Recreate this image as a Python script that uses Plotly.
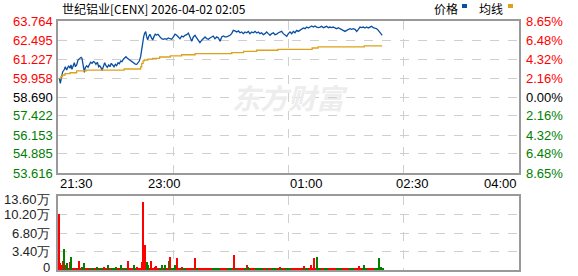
import plotly.graph_objects as go

# ---------------- data ----------------
title_text = "世纪铝业[CENX] 2026-04-02 02:05"
x_tick_labels = ["21:30", "23:00", "01:00", "02:30", "04:00"]
x_tick_minutes = [0, 90, 210, 300, 390]
x_grid_minutes = [97.5, 195, 292.5]

price_left_ticks = [63.764, 62.495, 61.227, 59.958, 58.690, 57.422, 56.153, 54.885, 53.616]
pct_right_ticks = ["8.65%", "6.48%", "4.32%", "2.16%", "0.00%", "2.16%", "4.32%", "6.48%", "8.65%"]
vol_tick_vals = [136000, 102000, 68000, 34000, 0]
vol_tick_text = ["13.60万", "10.20万", "6.80万", "3.40万", "0"]

price_minutes = [
    1.1, 2.0, 3.1, 4.0, 5.1, 6.2, 7.3, 8.2, 9.0, 10.2, 11.0, 11.8, 13.0, 13.8, 14.7, 15.8, 16.9, 18.0, 19.5, 20.3,
    21.2, 22.3, 23.1, 24.3, 25.4, 26.5, 27.6, 28.8, 29.9, 31.0, 32.1, 33.3, 34.4, 35.3, 36.4, 37.2, 38.4, 39.5, 40.6, 41.7,
    42.9, 44.0, 45.1, 46.3, 47.4, 48.5, 49.6, 50.8, 51.9, 53.0, 54.1, 55.3, 56.4, 57.5, 58.7, 59.8, 60.9, 62.0, 63.2, 64.3,
    65.4, 66.6, 67.7, 68.8, 69.9, 70.8, 71.6, 72.5, 73.3, 74.2, 75.0, 75.9, 76.7, 77.8, 79.0, 80.1, 81.2, 82.3, 83.4, 84.6,
    86.3, 87.7, 89.1, 90.5, 91.9, 93.3, 94.8, 96.2, 97.6, 99.0, 100.4, 101.8, 103.2, 104.6, 106.0, 107.4, 108.9, 110.3, 111.7, 113.1,
    114.5, 115.9, 117.3, 118.7, 120.1, 121.6, 123.0, 124.4, 125.8, 127.2, 128.6, 130.0, 131.4, 132.8, 134.3, 135.7, 137.1, 138.5, 139.9, 141.3,
    142.7, 144.1, 145.5, 146.9, 148.3, 149.7, 151.2, 152.6, 154.0, 155.4, 156.8, 158.2, 159.6, 161.0, 162.4, 163.8, 165.2, 166.7, 168.1, 169.5,
    170.9, 172.3, 173.7, 175.1, 176.5, 177.9, 179.4, 180.8, 182.2, 183.6, 185.0, 186.4, 187.8, 189.2, 190.6, 192.1, 193.5, 194.9, 196.3, 197.7,
    199.1, 200.5, 201.9, 203.3, 204.7, 206.2, 207.6, 209.0, 210.4, 211.8, 213.2, 214.6, 216.0, 217.4, 218.8, 220.2, 221.7, 223.1, 224.5, 225.9,
    227.3, 228.7, 230.1, 231.5, 232.9, 234.3, 235.7, 237.1, 238.6, 240.0, 241.4, 242.8, 244.2, 245.6, 247.0, 248.4, 249.8, 251.3, 252.7, 254.1,
    255.5, 256.9, 258.3, 259.7, 261.1, 262.5, 263.9, 265.3, 266.7, 268.2, 269.6, 271.0, 272.4, 273.8, 274.3,
]
price_values = [
    59.94, 59.60, 60.05, 60.38, 60.49, 60.71, 60.49, 60.65, 60.78, 60.61, 60.83, 60.54, 60.83, 60.98, 60.71, 60.83, 61.16, 61.27, 61.34, 61.27,
    60.83, 60.34, 60.65, 60.78, 60.67, 60.87, 61.01, 60.94, 61.05, 61.01, 60.87, 61.01, 60.71, 60.78, 60.65, 60.45, 60.83, 60.98, 60.78, 60.67,
    60.83, 60.71, 60.94, 60.83, 60.71, 60.87, 60.78, 60.98, 60.91, 61.09, 61.05, 61.21, 61.27, 61.38, 61.27, 61.21, 61.14, 61.05, 61.01, 60.94,
    60.89, 60.87, 61.01, 61.09, 61.38, 61.94, 62.50, 62.72, 62.94, 63.05, 62.72, 62.50, 62.72, 62.88, 62.65, 62.50, 62.72, 62.88, 62.83, 62.88,
    62.70, 62.58, 62.54, 62.58, 62.54, 62.63, 62.58, 62.54, 62.70, 62.88, 62.81, 62.70, 62.58, 62.76, 62.70, 62.81, 62.85, 62.96, 62.70, 62.41,
    62.70, 62.81, 62.63, 62.48, 62.32, 62.48, 62.58, 62.70, 62.58, 62.54, 62.63, 62.70, 62.76, 62.58, 62.70, 62.63, 62.41, 62.70, 62.76, 62.70,
    62.70, 62.76, 62.81, 62.92, 63.14, 63.10, 63.03, 63.10, 62.98, 63.03, 62.92, 63.03, 62.98, 63.07, 62.92, 63.03, 62.98, 63.07, 62.96, 63.03,
    62.92, 62.98, 62.85, 62.92, 63.03, 62.92, 62.81, 62.92, 62.98, 62.85, 62.88, 62.98, 63.03, 63.07, 62.92, 62.85, 62.74, 62.92, 63.03, 62.92,
    63.07, 62.98, 63.14, 63.07, 63.14, 63.21, 63.30, 63.25, 63.36, 63.30, 63.36, 63.43, 63.36, 63.43, 63.36, 63.32, 63.36, 63.41, 63.32, 63.36,
    63.41, 63.32, 63.36, 63.32, 63.36, 63.30, 63.25, 63.32, 63.25, 63.21, 63.14, 63.07, 63.14, 63.21, 63.25, 63.21, 63.25, 63.21, 63.07, 63.21,
    63.36, 63.32, 63.36, 63.30, 63.36, 63.30, 63.36, 63.41, 63.32, 63.30, 63.25, 63.14, 63.03, 62.85, 62.81,
]

avg_minutes = [1.1, 2.5, 3.8, 6.0, 10.2, 15.8, 24.0, 56.0, 69.9, 70.8, 72.0, 73.0, 76.0, 80.0, 86.0, 95.0, 104.6, 116.0,
               147.0, 157.0, 168.0, 186.0, 215.0, 220.0, 259.0, 274.3]
avg_values = [59.94, 60.05, 60.16, 60.25, 60.31, 60.43, 60.49, 60.56, 60.70, 60.94, 61.10, 61.16, 61.22, 61.27, 61.36, 61.43,
              61.51, 61.58, 61.65, 61.74, 61.81, 61.87, 61.96, 62.03, 62.10, 62.10]

vol_minutes = [1, 2, 3, 4, 5, 7, 8, 10, 11, 18, 20, 21, 22, 27, 33, 39, 42, 49, 53, 59, 64, 67, 71, 72, 73, 74, 75, 76,
               79, 82, 83, 88, 91, 94, 95, 99, 101, 105, 110, 116, 122, 149, 151, 160, 161, 169, 177, 181, 188, 189,
               208, 214, 216, 217, 219, 236, 255, 259, 272, 273, 274]
vol_values = [103000, 12000, 9000, 16000, 38000, 9000, 12000, 15000, 24500, 16500, 5000, 6000, 12000, 3000, 6000, 6000,
              9000, 6000, 9000, 16500, 9000, 6000, 15000, 125000, 43000, 46000, 15000, 10000, 16500, 6000, 7000, 10000,
              9000, 16500, 24500, 10000, 22000, 6000, 4000, 21400, 4000, 27600, 4000, 10000, 5000, 3000, 3000, 3000,
              6000, 3000, 7000, 9000, 3000, 21400, 24500, 3000, 7000, 9000, 21400, 6000, 4000]
vol_colors = list("rrrrgrgrgrrggrgrgggrgrrrrrggrrrgggrgrrrrrrgrggggrgrrrrggrgggg")

base_colors = ("rrrrrrrrggggrrrrgggrrrrrr" "gggggrrrrrgggrrrrrrrggggg" "rrrrrgggrrrrrggggrrrrrrrr"
               "rrrrrrrrrrggggrrrrrgggggg" "rrrgggggrrrrrrggggrrrrrrr" "rrrrrgggggggrrrrrrggggrrr"
               "rrrrrrrgggggrrrrrggggggrr" "rrrrrrrgggrrrrrrrgggggrrr" "rrrrrrgggggrrrrrrrggggrrr"
               "gggrrrrrrrgggggrrrrrrgggg" "rrrrrrrggggrrrrrrgggggggg")
base_value = 2000

# ---------------- styling ----------------
W, H = 578, 276
L, R, T, B = 58, 59, 21, 6
PW, PH = W - L - R, H - T - B
RED, GREEN, BLACK = "#ff0000", "#008000", "#000000"
BLUE_LINE, GOLD_LINE = "#0a4fa3", "#dca21b"
GRID = "#cfcfcf"
FRAME = "#999999"
NUM_FONT = "Liberation Sans, Arial, sans-serif"
CJK_FONT = "Noto Sans CJK SC, sans-serif"


def px_x(px):
    return (px - L) / PW


def px_y(py):
    return (H - B - py) / PH


main_top, main_bot = 21, 173
vol_top, vol_bot = 196, 270

fig = go.Figure()

fig.add_trace(go.Scatter(x=price_minutes, y=price_values, mode="lines",
                         line=dict(color=BLUE_LINE, width=1.3), xaxis="x", yaxis="y", hoverinfo="skip"))
fig.add_trace(go.Scatter(x=avg_minutes, y=avg_values, mode="lines", line_shape="hv",
                         line=dict(color=GOLD_LINE, width=1.3), xaxis="x", yaxis="y", hoverinfo="skip"))

cmap = {"r": RED, "g": GREEN}
base_x = list(range(1, len(base_colors) + 1))
fig.add_trace(go.Bar(x=base_x, y=[base_value] * len(base_x), marker_color=[cmap[c] for c in base_colors],
                     marker_line_width=0, width=1.0, xaxis="x2", yaxis="y2", hoverinfo="skip"))
fig.add_trace(go.Bar(x=vol_minutes, y=vol_values, marker_color=[cmap[c] for c in vol_colors],
                     marker_line_width=0, width=1.0, xaxis="x2", yaxis="y2", hoverinfo="skip"))

axis_common = dict(showline=True, mirror=True, linecolor=FRAME, linewidth=1.5, zeroline=False,
                   showgrid=True, gridcolor=GRID, griddash="dash", gridwidth=1, ticks="", showticklabels=False,
                   fixedrange=True)

fig.update_layout(
    width=W, height=H, margin=dict(l=L, r=R, t=T, b=B, pad=0),
    paper_bgcolor="white", plot_bgcolor="white", showlegend=False, barmode="overlay", bargap=0,
    xaxis=dict(domain=[0, 1], range=[0, 390], tickmode="array", tickvals=x_grid_minutes, anchor="y", **axis_common),
    yaxis=dict(domain=[px_y(main_bot), 1], range=[price_left_ticks[-1], price_left_ticks[0]],
               tickmode="array", tickvals=price_left_ticks[1:-1], anchor="x", **axis_common),
    xaxis2=dict(domain=[0, 1], range=[0, 390], tickmode="array", tickvals=x_grid_minutes, anchor="y2", **axis_common),
    yaxis2=dict(domain=[0, px_y(vol_top)], range=[0, vol_tick_vals[0]],
                tickmode="array", tickvals=vol_tick_vals[1:-1], anchor="x2", **axis_common),
)

ann = []
# title
ann.append(dict(text=title_text, x=px_x(60), y=px_y(8), xref="paper", yref="paper", xanchor="left", yanchor="middle",
                showarrow=False, font=dict(family=CJK_FONT, size=12, color=BLACK)))
# legend
ann.append(dict(text="价格", x=px_x(432), y=px_y(8), xref="paper", yref="paper", xanchor="left", yanchor="middle",
                showarrow=False, font=dict(family=CJK_FONT, size=12, color=BLACK)))
ann.append(dict(text="均线", x=px_x(477), y=px_y(8), xref="paper", yref="paper", xanchor="left", yanchor="middle",
                showarrow=False, font=dict(family=CJK_FONT, size=12, color=BLACK)))

# left / right price labels
n = len(price_left_ticks)
mid = n // 2
for i, (v, p) in enumerate(zip(price_left_ticks, pct_right_ticks)):
    col = RED if i < mid else (BLACK if i == mid else GREEN)
    ann.append(dict(text=f"{v:.3f}", x=0, y=v, xref="paper", yref="y", xanchor="right", yanchor="middle",
                    xshift=-3, showarrow=False, font=dict(family=NUM_FONT, size=13, color=col)))
    ann.append(dict(text=p, x=1, y=v, xref="paper", yref="y", xanchor="left", yanchor="middle",
                    xshift=5, showarrow=False, font=dict(family=NUM_FONT, size=13, color=col)))

# volume labels
for v, t in zip(vol_tick_vals, vol_tick_text):
    ys = 0
    if v == vol_tick_vals[0]:
        ys = -3
    elif v == 0:
        ys = 3
    ann.append(dict(text=t, x=0, y=v, xref="paper", yref="y2", xanchor="right", yanchor="middle",
                    xshift=-6, yshift=ys, showarrow=False, font=dict(family=NUM_FONT, size=13, color="#222222")))

# time labels
for i, (m, t) in enumerate(zip(x_tick_minutes, x_tick_labels)):
    xa = "left" if i == 0 else ("right" if i == len(x_tick_labels) - 1 else "center")
    ann.append(dict(text=t, x=m, y=px_y(183), xref="x", yref="paper", xanchor=xa, yanchor="middle",
                    showarrow=False, font=dict(family=NUM_FONT, size=13, color=BLACK)))

# watermark
ann.append(dict(text="<b><i>东方财富</i></b>", x=px_x(290), y=px_y(97), xref="paper", yref="paper",
                xanchor="center", yanchor="middle", showarrow=False,
                font=dict(family=CJK_FONT, size=28, color="#ededed")))

fig.update_layout(annotations=ann)

shapes = [
    dict(type="rect", xref="paper", yref="paper", x0=px_x(462), x1=px_x(467), y0=px_y(8), y1=px_y(4),
         fillcolor=BLUE_LINE, line_width=0),
    dict(type="rect", xref="paper", yref="paper", x0=px_x(508), x1=px_x(513), y0=px_y(8), y1=px_y(4),
         fillcolor=GOLD_LINE, line_width=0),
]
fig.update_layout(shapes=shapes)

fig.write_html("out.html")
